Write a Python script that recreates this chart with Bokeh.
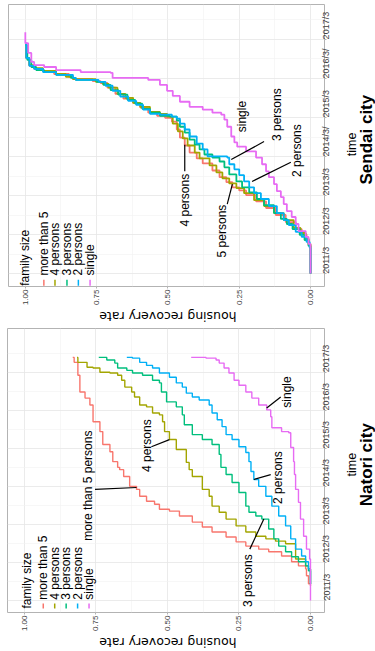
import math
from bokeh.plotting import figure
from bokeh.models import Range1d, FixedTicker
from bokeh.layouts import column, row
from bokeh.embed import file_html
from bokeh.resources import INLINE
from bokeh.core.properties import value

# ---------------- data ----------------
group_labels = ["more than 5", "4 persons", "3 persons", "2 persons", "single"]
group_colors = ["#F8766D", "#A3A500", "#00BF7D", "#00B0F6", "#E76BF3"]

rate_ticks = [0.0, 0.25, 0.5, 0.75, 1.0]
rate_minor = [0.125, 0.375, 0.625, 0.875]
rate_tick_labels = ["0.00", "0.25", "0.50", "0.75", "1.00"]
time_ticks = [2011.167, 2012.167, 2013.167, 2014.167, 2015.167, 2016.167, 2017.167]
time_minor = [2011.667, 2012.667, 2013.667, 2014.667, 2015.667, 2016.667, 2017.667]
natori_time_labels = ["2011/3", "2012/3", "2013/3", "2014/3", "2015/3", "2016/3", "2017/3"]
sendai_time_labels = ["2011/3", "2012/3", "2013/3", "2014/3/", "2015/3", "2016/3/", "2017/3"]

# Natori city (time in decimal years, rate 0..1)
natori_more5_t = [2011.55, 2011.61, 2011.82, 2012.00, 2012.08, 2012.19, 2012.34, 2012.45, 2012.52, 2012.60, 2012.71, 2012.84, 2012.97, 2013.10, 2013.23, 2013.39, 2013.52, 2013.57, 2013.70, 2013.78, 2013.91, 2014.09, 2014.17, 2014.43, 2014.61, 2014.67, 2014.82, 2015.08, 2015.27, 2015.61, 2015.87, 2016.31, 2016.49, 2016.65, 2017.09, 2017.43, 2017.56]
natori_more5_r = [0.000, 0.007, 0.014, 0.017, 0.042, 0.066, 0.101, 0.146, 0.181, 0.226, 0.260, 0.295, 0.344, 0.378, 0.413, 0.458, 0.493, 0.528, 0.545, 0.573, 0.597, 0.608, 0.632, 0.653, 0.667, 0.674, 0.691, 0.701, 0.726, 0.736, 0.760, 0.771, 0.788, 0.806, 0.813, 0.826, 0.831]
natori_four_t = [2011.60, 2012.00, 2012.08, 2012.26, 2012.66, 2012.73, 2012.79, 2012.86, 2012.97, 2013.13, 2013.31, 2013.49, 2013.65, 2013.91, 2014.09, 2014.43, 2014.61, 2014.80, 2015.14, 2015.40, 2015.61, 2015.87, 2016.05, 2016.10, 2016.26, 2016.31, 2016.52, 2016.65, 2016.78, 2016.96, 2017.09, 2017.15, 2017.17, 2017.28, 2017.30, 2017.43, 2017.56]
natori_four_r = [0.000, 0.007, 0.017, 0.052, 0.087, 0.122, 0.156, 0.191, 0.226, 0.260, 0.295, 0.319, 0.344, 0.354, 0.378, 0.413, 0.424, 0.434, 0.469, 0.493, 0.510, 0.517, 0.528, 0.552, 0.573, 0.597, 0.615, 0.625, 0.649, 0.660, 0.674, 0.701, 0.736, 0.760, 0.781, 0.813, 0.816]
natori_three_t = [2011.60, 2011.95, 2012.08, 2012.19, 2012.32, 2012.45, 2012.60, 2012.79, 2013.05, 2013.31, 2013.39, 2013.49, 2013.65, 2014.01, 2014.27, 2014.48, 2014.67, 2015.01, 2015.27, 2015.40, 2015.53, 2015.79, 2016.05, 2016.26, 2016.39, 2016.65, 2016.89, 2016.96, 2017.09, 2017.15, 2017.22, 2017.28, 2017.41, 2017.49, 2017.56]
natori_three_r = [0.000, 0.007, 0.017, 0.042, 0.066, 0.087, 0.111, 0.128, 0.146, 0.170, 0.191, 0.215, 0.226, 0.250, 0.274, 0.295, 0.313, 0.319, 0.344, 0.378, 0.413, 0.441, 0.448, 0.469, 0.503, 0.521, 0.528, 0.552, 0.587, 0.622, 0.642, 0.674, 0.684, 0.712, 0.740]
natori_two_t = [2011.60, 2011.82, 2012.00, 2012.19, 2012.34, 2012.52, 2012.79, 2013.13, 2013.39, 2013.65, 2013.91, 2014.17, 2014.35, 2014.56, 2014.82, 2015.06, 2015.21, 2015.40, 2015.53, 2015.74, 2015.92, 2016.10, 2016.31, 2016.44, 2016.52, 2016.62, 2016.78, 2016.89, 2017.04, 2017.15, 2017.28, 2017.35, 2017.43, 2017.54, 2017.56]
natori_two_r = [0.000, 0.000, 0.007, 0.017, 0.031, 0.052, 0.069, 0.087, 0.111, 0.135, 0.156, 0.181, 0.198, 0.208, 0.215, 0.226, 0.250, 0.274, 0.295, 0.309, 0.326, 0.344, 0.354, 0.389, 0.413, 0.434, 0.448, 0.469, 0.493, 0.528, 0.552, 0.573, 0.597, 0.622, 0.642]
natori_single_t = [2011.17, 2012.26, 2012.52, 2012.86, 2013.31, 2013.75, 2014.09, 2014.48, 2014.82, 2015.19, 2015.58, 2015.61, 2015.71, 2016.00, 2016.18, 2016.31, 2016.49, 2016.65, 2016.83, 2016.96, 2017.15, 2017.28, 2017.41, 2017.49, 2017.54, 2017.56]
natori_single_r = [0.000, 0.003, 0.014, 0.024, 0.035, 0.042, 0.052, 0.056, 0.059, 0.069, 0.076, 0.101, 0.135, 0.139, 0.153, 0.181, 0.205, 0.226, 0.250, 0.267, 0.285, 0.302, 0.319, 0.330, 0.365, 0.417]

# Sendai city
sendai_more5_t = [2011.17, 2011.75, 2011.90, 2012.06, 2012.18, 2012.31, 2012.49, 2012.67, 2012.85, 2013.02, 2013.18, 2013.30, 2013.38, 2013.51, 2013.64, 2013.81, 2013.99, 2014.12, 2014.27, 2014.45, 2014.65, 2014.86, 2015.06, 2015.16, 2015.21, 2015.29, 2015.42, 2015.54, 2015.65, 2015.77, 2015.93, 2016.05, 2016.10, 2016.15, 2016.21, 2016.28, 2016.36, 2016.41, 2016.49, 2016.69, 2017.02]
sendai_more5_r = [0.000, 0.000, 0.007, 0.014, 0.031, 0.052, 0.087, 0.122, 0.156, 0.191, 0.226, 0.250, 0.274, 0.295, 0.319, 0.344, 0.378, 0.399, 0.424, 0.441, 0.458, 0.469, 0.486, 0.510, 0.538, 0.569, 0.597, 0.622, 0.656, 0.684, 0.712, 0.736, 0.764, 0.833, 0.847, 0.899, 0.938, 0.969, 0.986, 0.997, 1.000]
sendai_four_t = [2011.17, 2011.75, 2011.93, 2012.06, 2012.21, 2012.34, 2012.54, 2012.72, 2012.90, 2013.05, 2013.23, 2013.36, 2013.48, 2013.61, 2013.76, 2013.94, 2014.12, 2014.27, 2014.45, 2014.63, 2014.81, 2015.01, 2015.19, 2015.26, 2015.31, 2015.44, 2015.54, 2015.67, 2015.77, 2015.93, 2016.03, 2016.08, 2016.15, 2016.21, 2016.28, 2016.36, 2016.43, 2016.51, 2016.69, 2017.05]
sendai_four_r = [0.000, 0.000, 0.007, 0.017, 0.035, 0.059, 0.094, 0.128, 0.163, 0.198, 0.233, 0.260, 0.285, 0.309, 0.330, 0.354, 0.389, 0.406, 0.431, 0.448, 0.465, 0.483, 0.503, 0.528, 0.563, 0.597, 0.622, 0.649, 0.677, 0.708, 0.729, 0.753, 0.833, 0.858, 0.892, 0.938, 0.969, 0.986, 0.997, 1.000]
sendai_three_t = [2011.17, 2011.70, 2011.88, 2012.03, 2012.16, 2012.31, 2012.44, 2012.57, 2012.72, 2012.92, 2013.08, 2013.25, 2013.38, 2013.53, 2013.71, 2013.89, 2014.04, 2014.14, 2014.22, 2014.35, 2014.47, 2014.60, 2014.78, 2014.93, 2015.09, 2015.19, 2015.21, 2015.29, 2015.39, 2015.52, 2015.62, 2015.75, 2015.87, 2016.00, 2016.08, 2016.13, 2016.18, 2016.26, 2016.33, 2016.38, 2016.46, 2016.64, 2017.02]
sendai_three_r = [0.000, 0.000, 0.007, 0.021, 0.038, 0.063, 0.083, 0.104, 0.128, 0.163, 0.188, 0.215, 0.240, 0.260, 0.285, 0.302, 0.319, 0.344, 0.372, 0.389, 0.406, 0.424, 0.441, 0.458, 0.469, 0.493, 0.528, 0.563, 0.590, 0.615, 0.642, 0.674, 0.701, 0.726, 0.750, 0.823, 0.840, 0.892, 0.934, 0.962, 0.979, 0.993, 1.000]
sendai_two_t = [2011.17, 2011.68, 2011.83, 2011.98, 2012.11, 2012.24, 2012.41, 2012.54, 2012.72, 2012.90, 2013.08, 2013.23, 2013.38, 2013.53, 2013.69, 2013.84, 2013.97, 2014.14, 2014.17, 2014.35, 2014.50, 2014.68, 2014.86, 2015.01, 2015.14, 2015.19, 2015.24, 2015.26, 2015.37, 2015.49, 2015.59, 2015.70, 2015.85, 2015.98, 2016.08, 2016.13, 2016.18, 2016.26, 2016.33, 2016.41, 2016.49, 2016.69, 2017.07]
sendai_two_r = [0.000, 0.000, 0.003, 0.014, 0.031, 0.052, 0.076, 0.094, 0.118, 0.146, 0.174, 0.198, 0.215, 0.233, 0.250, 0.267, 0.285, 0.292, 0.361, 0.378, 0.399, 0.424, 0.441, 0.458, 0.469, 0.486, 0.528, 0.563, 0.587, 0.611, 0.639, 0.667, 0.694, 0.719, 0.743, 0.823, 0.833, 0.892, 0.938, 0.969, 0.986, 0.997, 1.000]
sendai_single_t = [2011.17, 2011.68, 2011.93, 2012.11, 2012.26, 2012.44, 2012.62, 2012.77, 2012.95, 2013.13, 2013.28, 2013.46, 2013.64, 2013.79, 2013.97, 2014.14, 2014.30, 2014.42, 2014.53, 2014.68, 2014.93, 2015.11, 2015.24, 2015.29, 2015.37, 2015.44, 2015.57, 2015.72, 2015.85, 2016.00, 2016.13, 2016.18, 2016.31, 2016.33, 2016.38, 2016.46, 2016.51, 2016.59, 2016.82, 2017.07, 2017.35]
sendai_single_r = [0.000, 0.000, 0.007, 0.017, 0.042, 0.052, 0.066, 0.083, 0.094, 0.104, 0.118, 0.128, 0.146, 0.156, 0.170, 0.191, 0.226, 0.257, 0.267, 0.278, 0.292, 0.302, 0.313, 0.344, 0.378, 0.424, 0.458, 0.483, 0.503, 0.528, 0.569, 0.694, 0.701, 0.806, 0.892, 0.934, 0.969, 0.979, 0.990, 1.000, 1.000]

# in-plot annotation texts
natori_notes = ["more than 5 persons", "4 persons", "3 persons", "2 persons", "single"]
sendai_notes = ["4 persons", "5 persons", "3 persons", "2 persons", "single"]

FONT = "Liberation Sans"
PANEL_W = 344      # panel figure width
RIGHT_B = 20       # room for the time tick labels (frame ends near 324)
BOTTOM_B = 20      # room for the rate tick labels


# ---------------- helpers ----------------
def stairs(r, t):
    xs, ys = [r[0]], [t[0]]
    for i in range(1, len(r)):
        xs.extend([r[i - 1], r[i]])
        ys.extend([t[i], t[i]])
    return xs, ys


def bare(width, height, xr, yr, left, right, top, bottom):
    f = figure(width=width, height=height, x_range=xr, y_range=yr,
               x_axis_type=None, y_axis_type=None,
               output_backend="svg", toolbar_location=None,
               min_border_left=left, min_border_right=right,
               min_border_top=top, min_border_bottom=bottom)
    f.outline_line_color = None
    f.background_fill_color = "white"
    f.border_fill_color = "white"
    return f


def make_panel(series, time_labels, y0, y1, height, top, left, notes, note_pos,
               leaders, legend_pos, lw):
    p = figure(width=PANEL_W, height=height,
               x_range=Range1d(1.059, -0.049), y_range=Range1d(y0, y1),
               y_axis_location="right", output_backend="svg", toolbar_location=None,
               min_border_left=left, min_border_right=RIGHT_B,
               min_border_top=top, min_border_bottom=BOTTOM_B)
    p.background_fill_color = "white"
    p.border_fill_color = "white"
    p.outline_line_color = "#B3B3B3"
    p.outline_line_width = 1

    xa = p.xaxis[0]
    xa.ticker = FixedTicker(ticks=rate_ticks, minor_ticks=rate_minor)
    xa.major_label_overrides = {v: s for v, s in zip(rate_ticks, rate_tick_labels)}
    xa.major_label_text_font_size = "8px"
    xa.major_label_standoff = 1
    ya = p.yaxis[0]
    ya.ticker = FixedTicker(ticks=time_ticks, minor_ticks=time_minor)
    ya.major_label_overrides = {v: s for v, s in zip(time_ticks, time_labels)}
    ya.major_label_text_font_size = "9px"
    ya.major_label_standoff = 0
    for ax in (xa, ya):
        ax.axis_line_color = None
        ax.major_tick_line_color = "#B3B3B3"
        ax.major_tick_out = 2
        ax.major_tick_in = 0
        ax.minor_tick_line_color = None
        ax.minor_tick_out = 0
        ax.major_label_text_font = FONT
        ax.major_label_text_color = "#404040"
        ax.major_label_orientation = math.pi / 2

    p.xgrid.grid_line_color = "#E6E6E6"
    p.xgrid.grid_line_width = 0.8
    p.xgrid.minor_grid_line_color = "#F2F2F2"
    p.xgrid.minor_grid_line_width = 0.6
    p.ygrid.grid_line_color = "#E6E6E6"
    p.ygrid.grid_line_width = 0.8
    p.ygrid.minor_grid_line_color = "#F2F2F2"
    p.ygrid.minor_grid_line_width = 0.6

    for (r, t), c in zip(series, group_colors):
        xs, ys = stairs(r, t)
        p.line(xs, ys, line_color=c, line_width=lw)

    # legend (drawn rotated like the reference)
    tr, tt, item_r, txt_t, k0, k1 = legend_pos
    p.text(x=[tr], y=[tt], text=["family size"], angle=math.pi / 2,
           text_font=value(FONT), text_font_size="12px", text_color="black",
           text_align="left", text_baseline="middle")
    p.segment(x0=item_r, y0=[k0] * 5, x1=item_r, y1=[k1] * 5,
              line_color=group_colors, line_width=1.5)
    p.text(x=item_r, y=[txt_t] * 5, text=group_labels, angle=math.pi / 2,
           text_font=value(FONT), text_font_size="12px", text_color="black",
           text_align="left", text_baseline="middle")

    # direct labels with leader lines
    nr, nt = note_pos
    p.text(x=nr, y=nt, text=notes, angle=math.pi / 2,
           text_font=value(FONT), text_font_size="12px", text_color="black",
           text_align="center", text_baseline="middle")
    lx0, ly0, lx1, ly1 = leaders
    p.segment(x0=lx0, y0=ly0, x1=lx1, y1=ly1, line_color="black", line_width=1.2)
    return p


def side_panel(p, height, top, time_t, title, title_t):
    w = 375 - PANEL_W
    s = bare(w, height, Range1d(0, w), p.y_range, 0, 0, top, BOTTOM_B)
    s.text(x=[7.5], y=[time_t], text=["time"], angle=math.pi / 2,
           text_font=value(FONT), text_font_size="12.5px", text_color="black",
           text_align="center", text_baseline="middle")
    s.text(x=[21.5], y=[title_t], text=[title], angle=math.pi / 2,
           text_font=value(FONT), text_font_style="bold",
           text_font_size="17px", text_color="black",
           text_align="center", text_baseline="middle")
    return s


def bottom_strip(p, left, height, ymid):
    b = bare(375, height, p.x_range, Range1d(0, height), left, 375 - (PANEL_W - RIGHT_B), 0, 0)
    b.text(x=[0.5], y=[ymid], text=["housing recovery rate"], angle=math.pi,
           text_font=value("DejaVu Sans"), text_font_size="12.5px", text_color="black",
           text_align="center", text_baseline="middle")
    return b


sendai = make_panel(
    [(sendai_more5_r, sendai_more5_t), (sendai_four_r, sendai_four_t),
     (sendai_three_r, sendai_three_t), (sendai_two_r, sendai_two_t),
     (sendai_single_r, sendai_single_t)],
    sendai_time_labels, 2010.84, 2018.06, 308, 4, 8, sendai_notes,
    ([0.441, 0.309, 0.118, 0.049, 0.240], [2013.05, 2012.26, 2015.24, 2014.32, 2015.19]),
    ([0.441, 0.292, 0.163, 0.069], [2013.79, 2012.95, 2014.55, 2014.02],
     [0.441, 0.274, 0.278, 0.205], [2014.47, 2013.46, 2014.09, 2013.53]),
    (1.0, 2010.86, [0.935, 0.896, 0.854, 0.814, 0.773], 2011.12, 2010.86, 2011.01),
    1.8)
sendai_side = side_panel(sendai, 308, 4, 2014.48, "Sendai city", 2014.60)
sendai_bottom = bottom_strip(sendai, 8, 15, 7.5)

natori = make_panel(
    [(natori_more5_r, natori_more5_t), (natori_four_r, natori_four_t),
     (natori_three_r, natori_three_t), (natori_two_r, natori_two_t),
     (natori_single_r, natori_single_t)],
    natori_time_labels, 2010.854, 2018.32, 311, 5, 7, natori_notes,
    ([0.778, 0.573, 0.219, 0.115, 0.083], [2014.19, 2015.24, 2011.69, 2014.40, 2016.65]),
    ([0.753, 0.556, 0.212, 0.139, 0.104], [2014.09, 2015.21, 2012.52, 2014.48, 2016.52],
     [0.608, 0.493, 0.163, 0.198, 0.153], [2014.14, 2015.40, 2013.31, 2014.35, 2016.23]),
    (0.990, 2010.96, [0.934, 0.894, 0.854, 0.814, 0.774], 2011.19, 2010.96, 2011.09),
    1.4)
natori_side = side_panel(natori, 311, 5, 2014.74, "Natori city", 2014.74)
natori_bottom = bottom_strip(natori, 7, 17, 9.0)

layout = column(row(sendai, sendai_side), sendai_bottom,
                row(natori, natori_side), natori_bottom)
open("out.html", "w").write(file_html(layout, INLINE))
